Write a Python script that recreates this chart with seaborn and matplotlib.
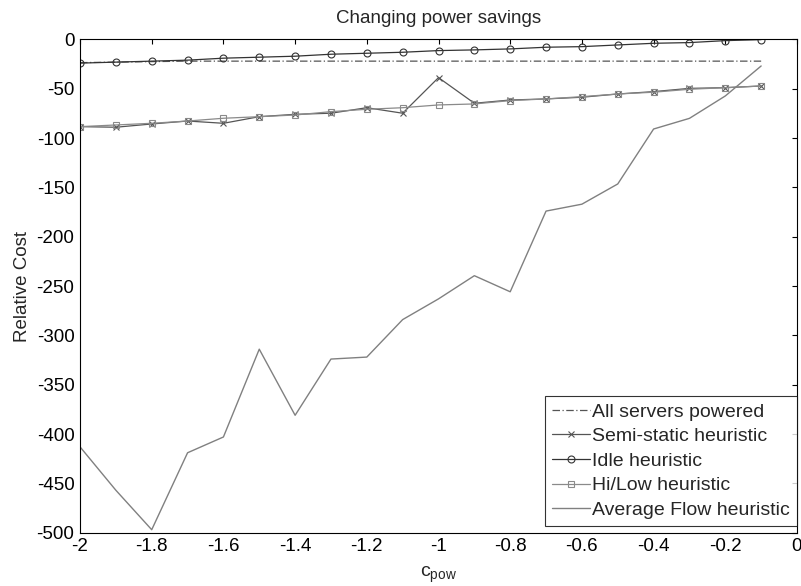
import matplotlib
matplotlib.use("Agg")
import matplotlib.pyplot as plt
import seaborn as sns
import pandas as pd

c_pow = [-2.0, -1.9, -1.8, -1.7, -1.6, -1.5, -1.4, -1.3, -1.2, -1.1,
         -1.0, -0.9, -0.8, -0.7, -0.6, -0.5, -0.4, -0.3, -0.2, -0.1]

all_powered = [-23.5, -23, -22.5, -22, -22, -22, -22, -22, -22, -22,
               -22, -22, -22, -22, -22, -22, -22, -22, -22, -22]
semi_static = [-88.4, -89, -85.7, -82.7, -85, -78.3, -75.9, -74.8, -69.2, -74.8,
               -38.7, -64.7, -61.4, -60.3, -58.6, -55.3, -52.9, -49.6, -48.9, -47.2]
idle = [-24, -23, -22, -21, -19, -18, -17, -15, -14, -13,
        -11.3, -10.6, -9.6, -7.9, -7.3, -5.6, -3.9, -3.2, -1.2, -0.2]
hi_low = [-88.4, -86.7, -85, -82.7, -79.9, -78.3, -76.6, -73.2, -70.8, -69.2,
          -66.4, -65.4, -62, -60.3, -58, -55.3, -53.5, -50.5, -48.9, -47.2]
avg_flow = [-413, -457, -497, -419, -403, -314, -381, -324, -322, -284,
            -263, -239.5, -255.8, -174, -167, -146.5, -90.8, -80, -57.3, -26.9]

sns.set_style("white")
plt.rcParams["font.family"] = ["Liberation Sans", "DejaVu Sans"]
plt.rcParams["mathtext.fontset"] = "custom"
plt.rcParams["mathtext.rm"] = "Liberation Sans"
plt.rcParams["axes.unicode_minus"] = False

fig = plt.figure(figsize=(8.01, 5.86), dpi=100)
ax = fig.add_axes([0.0999, 0.091, 0.8951, 0.8417])

df = pd.DataFrame({"c": c_pow, "all": all_powered, "semi": semi_static,
                   "idle": idle, "hilow": hi_low, "avg": avg_flow})

sns.lineplot(data=df, x="c", y="all", ax=ax, color="#555555", lw=0.9,
             linestyle=(0, (6, 2, 1, 2)), label="All servers powered")
sns.lineplot(data=df, x="c", y="semi", ax=ax, color="#555555", lw=0.9,
             marker="x", markersize=4, markeredgecolor="#555555",
             markeredgewidth=0.8, label="Semi-static heuristic")
sns.lineplot(data=df, x="c", y="idle", ax=ax, color="#333333", lw=0.9,
             marker="o", markersize=5, markerfacecolor="none", markeredgecolor="#333333",
             markeredgewidth=0.8, label="Idle heuristic")
sns.lineplot(data=df, x="c", y="hilow", ax=ax, color="#8a8a8a", lw=0.9,
             marker="s", markersize=5, markerfacecolor="none", markeredgecolor="#8a8a8a",
             markeredgewidth=0.8, label="Hi/Low heuristic")
sns.lineplot(data=df, x="c", y="avg", ax=ax, color="#808080", lw=1.0,
             label="Average Flow heuristic")

ax.set_xlim(-2, 0)
ax.set_ylim(-500, 0)
ax.set_xticks([-2, -1.8, -1.6, -1.4, -1.2, -1, -0.8, -0.6, -0.4, -0.2, 0])
ax.set_xticklabels(["-2", "-1.8", "-1.6", "-1.4", "-1.2", "-1", "-0.8", "-0.6", "-0.4", "-0.2", "0"])
ax.set_yticks(range(-500, 1, 50))
ax.tick_params(direction="in", length=3.5, width=0.8, top=True, right=True,
               labelsize=13.5, colors="black", pad=4)
for s in ax.spines.values():
    s.set_color("black")
    s.set_linewidth(0.8)

ax.set_title("Changing power savings", fontsize=13.5, pad=12)
ax.set_xlabel(r"c$_{\mathregular{pow}}$", fontsize=14)
ax.xaxis.set_label_coords(0.5, -0.064)
ax.set_ylabel("Relative Cost", fontsize=13.5)
ax.yaxis.set_label_coords(-0.068, 0.5)

leg = ax.legend(loc="lower right", bbox_to_anchor=(1.0, 0.014), fontsize=14,
                frameon=True, fancybox=False, borderaxespad=0, handlelength=2.0,
                handletextpad=0.1, labelspacing=0.36, borderpad=0.35)
leg.get_frame().set_edgecolor("black")
leg.get_frame().set_linewidth(0.8)

fig.savefig("out.png", dpi=100)
